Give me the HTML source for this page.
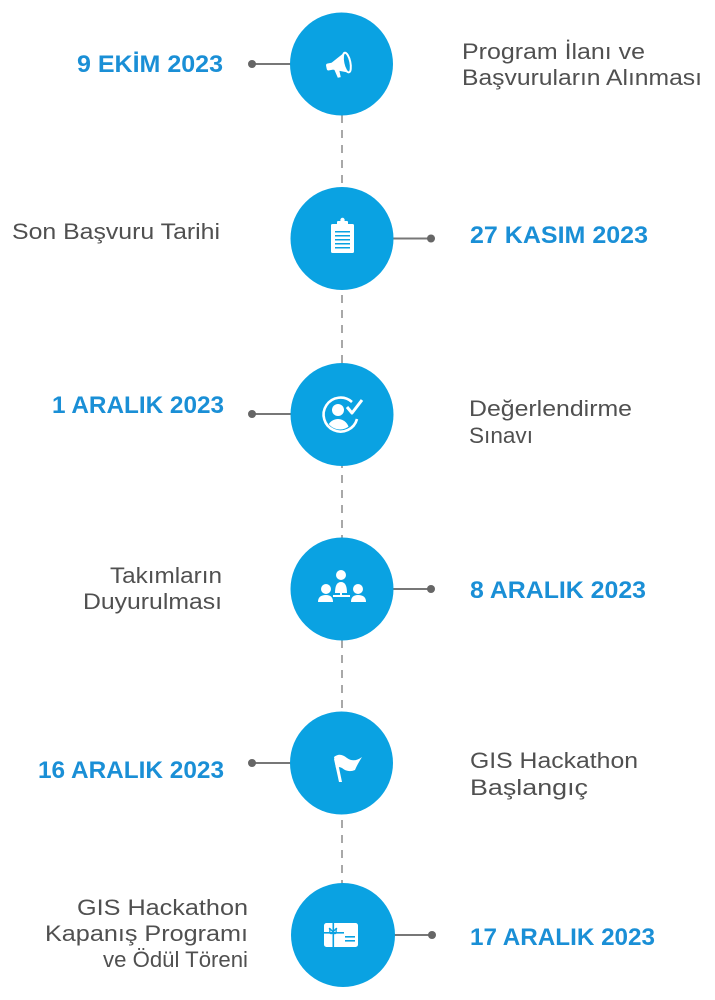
<!DOCTYPE html>
<html><head><meta charset="utf-8"><style>
html,body{margin:0;padding:0;background:#fff;}
svg{display:block;}
.d{font-family:"Liberation Sans",sans-serif;font-weight:bold;font-size:24px;fill:#1a8fd6;}
.t{font-family:"Liberation Sans",sans-serif;font-size:22px;fill:#505050;}
</style></head><body>
<svg width="715" height="1000" viewBox="0 0 715 1000" xmlns="http://www.w3.org/2000/svg">
<line x1="342" y1="115" x2="342" y2="884" stroke="#a8a8a8" stroke-width="2" stroke-dasharray="8 7"/>
<g stroke="#777" stroke-width="2">
<line x1="252" y1="64" x2="295" y2="64"/>
<line x1="390" y1="238.5" x2="431" y2="238.5"/>
<line x1="252" y1="414" x2="295" y2="414"/>
<line x1="390" y1="589" x2="431" y2="589"/>
<line x1="252" y1="763" x2="295" y2="763"/>
<line x1="390" y1="935" x2="432" y2="935"/>
</g>
<g fill="#666">
<circle cx="252" cy="64" r="4"/>
<circle cx="431" cy="238.5" r="4"/>
<circle cx="252" cy="414" r="4"/>
<circle cx="431" cy="589" r="4"/>
<circle cx="252" cy="763" r="4"/>
<circle cx="432" cy="935" r="4"/>
</g>
<g fill="#0aa2e2">
<circle cx="341.5" cy="64" r="51.5"/>
<circle cx="342" cy="238.5" r="51.5"/>
<circle cx="342" cy="414.5" r="51.5"/>
<circle cx="342" cy="589" r="51.5"/>
<circle cx="341.5" cy="763" r="51.5"/>
<circle cx="343" cy="935" r="52"/>
</g>
<!-- megaphone -->
<g fill="#fff" transform="rotate(-12 340 64)">
<rect x="326" y="61" width="8" height="7" rx="2"/>
<polygon points="332,61 346,54 346,74 332,68"/>
<polygon points="333,67 335,77 338,77 338,68"/>
<ellipse cx="347" cy="64" rx="3.5" ry="10" fill="#0aa2e2" stroke="#fff" stroke-width="2"/>
</g>
<!-- clipboard -->
<g>
<rect x="331" y="224" width="23" height="29" rx="1.5" fill="#fff"/>
<rect x="337" y="221" width="11" height="5" rx="1" fill="#fff"/>
<circle cx="342.5" cy="220" r="2.2" fill="#fff"/>
<g fill="#0aa2e2">
<rect x="335" y="231" width="15" height="1.5"/>
<rect x="335" y="235" width="15" height="1.5"/>
<rect x="335" y="239" width="15" height="1.5"/>
<rect x="335" y="243" width="15" height="1.5"/>
<rect x="335" y="247" width="15" height="1.5"/>
</g>
</g>
<!-- check person -->
<g>
<path d="M352 402 A17 17 0 1 0 357 419" fill="none" stroke="#fff" stroke-width="2.6"/>
<defs><clipPath id="cp"><circle cx="340" cy="415" r="14.5"/></clipPath></defs>
<g clip-path="url(#cp)" fill="#fff">
<circle cx="338" cy="410" r="6"/>
<ellipse cx="338" cy="430" rx="11" ry="11"/>
</g>
<polyline points="347,407 352,413 362,400" fill="none" stroke="#fff" stroke-width="3" stroke-linejoin="round"/>
</g>
<!-- team -->
<g fill="#fff">
<circle cx="341" cy="575" r="5"/>
<path d="M335 593 Q335 582 341 582 Q347 582 347 593 Z"/>
<circle cx="326" cy="589" r="5"/>
<path d="M318 602 Q318 595 326 595 Q333 595 333 602 Z"/>
<circle cx="358" cy="589" r="5"/>
<path d="M351 602 Q351 595 358 595 Q366 595 366 602 Z"/>
<rect x="333" y="595" width="17" height="2"/>
<rect x="340" y="590" width="2" height="6"/>
</g>
<!-- flag -->
<g fill="#fff">
<polygon points="334,759 337,758 342,782 339,782"/>
<path d="M334 757 Q340 752 347 758 Q354 763 362 757 Q357 765 355 770 Q348 773 342 768 Q338 766 336 768 Z"/>
</g>
<!-- gift card -->
<g>
<rect x="324" y="923" width="34" height="24" rx="2.5" fill="#fff"/>
<rect x="332.5" y="923" width="1.6" height="24" fill="#0aa2e2"/>
<rect x="324" y="932" width="20" height="1.6" fill="#0aa2e2"/>
<path d="M333 932 Q328 926 330 930 Q329 935 333 933 Q337 935 336 930 Q338 926 333 932 Z" fill="none" stroke="#0aa2e2" stroke-width="1.3"/>
<rect x="345" y="936" width="10" height="1.6" fill="#0aa2e2"/>
<rect x="345" y="940" width="10" height="1.6" fill="#0aa2e2"/>
</g>
<!-- left texts -->
<text class="d" x="77" y="72" textLength="146" lengthAdjust="spacingAndGlyphs">9 EKİM 2023</text>
<text class="t" x="12" y="239" textLength="208" lengthAdjust="spacingAndGlyphs">Son Başvuru Tarihi</text>
<text class="d" x="52" y="413" textLength="172" lengthAdjust="spacingAndGlyphs">1 ARALIK 2023</text>
<text class="t" x="110" y="583" textLength="112" lengthAdjust="spacingAndGlyphs">Takımların</text>
<text class="t" x="83" y="609" textLength="139" lengthAdjust="spacingAndGlyphs">Duyurulması</text>
<text class="d" x="38" y="778" textLength="186" lengthAdjust="spacingAndGlyphs">16 ARALIK 2023</text>
<text class="t" x="77" y="915" textLength="171" lengthAdjust="spacingAndGlyphs">GIS Hackathon</text>
<text class="t" x="45" y="941" textLength="203" lengthAdjust="spacingAndGlyphs">Kapanış Programı</text>
<text class="t" x="103" y="967" textLength="145" lengthAdjust="spacingAndGlyphs">ve Ödül Töreni</text>
<!-- right texts -->
<text class="t" x="462" y="59" textLength="183" lengthAdjust="spacingAndGlyphs">Program İlanı ve</text>
<text class="t" x="462" y="85" textLength="240" lengthAdjust="spacingAndGlyphs">Başvuruların Alınması</text>
<text class="d" x="470" y="243" textLength="178" lengthAdjust="spacingAndGlyphs">27 KASIM 2023</text>
<text class="t" x="469" y="416" textLength="163" lengthAdjust="spacingAndGlyphs">Değerlendirme</text>
<text class="t" x="469" y="443" textLength="64" lengthAdjust="spacingAndGlyphs">Sınavı</text>
<text class="d" x="470" y="598" textLength="176" lengthAdjust="spacingAndGlyphs">8 ARALIK 2023</text>
<text class="t" x="470" y="768" textLength="168" lengthAdjust="spacingAndGlyphs">GIS Hackathon</text>
<text class="t" x="470" y="795" textLength="118" lengthAdjust="spacingAndGlyphs">Başlangıç</text>
<text class="d" x="470" y="945" textLength="185" lengthAdjust="spacingAndGlyphs">17 ARALIK 2023</text>
</svg>
</body></html>
